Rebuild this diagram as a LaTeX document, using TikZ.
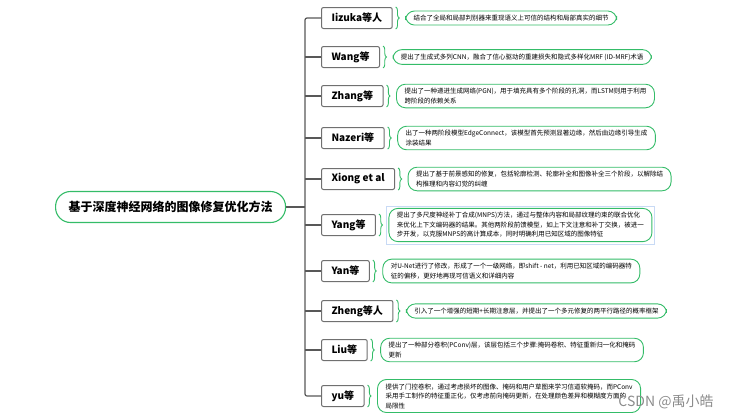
\documentclass[tikz,border=0pt]{standalone}
\usepackage{fontspec}
\setmainfont{Noto Sans CJK SC}
\usepackage{tikz}
\usetikzlibrary{positioning,decorations.pathreplacing}
\definecolor{mapgreen}{RGB}{52,188,104}
\definecolor{boxgray}{RGB}{112,112,112}
\definecolor{linegray}{RGB}{88,88,88}
\definecolor{selblue}{RGB}{200,218,245}
\tikzstyle{root}=[draw=mapgreen, line width=1.1pt, fill=white, rounded corners=15pt,
        minimum height=31pt, inner xsep=13pt, font=\fontsize{12}{12}\selectfont\bfseries]
\tikzstyle{method}=[draw=boxgray, line width=1pt, fill=white, rounded corners=2pt,
        minimum height=21pt, inner xsep=10pt, font=\fontsize{10}{10}\selectfont\bfseries]
\tikzstyle{note}=[draw=mapgreen, line width=0.9pt, fill=white, rounded corners=9pt,
        align=left, inner xsep=8pt, inner ysep=4pt, font=\fontsize{6.5}{9.5}\selectfont]
\tikzstyle{branch}=[draw=linegray, line width=1.2pt]
\tikzstyle{curly}=[draw=mapgreen, line width=0.9pt, decorate,
        decoration={brace, amplitude=3.5pt}]

\begin{document}
\begin{tikzpicture}[x=1pt, y=-1pt]

        \useasboundingbox (0,0) rectangle (731,416);

        \node[root, anchor=west] (root) at (55,207) {基于深度神经网络的图像修复优化方法};
        \coordinate (trunk) at (305,207);

        \node[method, anchor=west] (iizuka) at (321,18) {Iizuka等人};
        \node[method, anchor=west] (wang) at (321,57) {Wang等};
        \node[method, anchor=west] (zhang) at (321,96) {Zhang等};
        \node[method, anchor=west] (nazeri) at (321,138) {Nazeri等};
        \node[method, anchor=west] (xiong) at (321,179) {Xiong et al};
        \node[method, anchor=west] (yang) at (321,225) {Yang等};
        \node[method, anchor=west] (yan) at (321,271) {Yan等};
        \node[method, anchor=west] (zheng) at (321,311) {Zheng等人};
        \node[method, anchor=west] (liu) at (321,350) {Liu等};
        \node[method, anchor=west] (yu) at (321,396) {yu等};

        \node[note, right=12.5pt of iizuka] (iizukanote)
            {结合了全局和局部判别器来重现语义上可信的结构和局部真实的细节};
        \node[note, right=12.5pt of wang] (wangnote)
            {提出了生成式多列CNN，融合了信心驱动的重建损失和隐式多样化MRF (ID-MRF)术语};
        \node[note, right=12.5pt of zhang] (zhangnote)
            {提出了一种递进生成网络(PGN)，用于填充具有多个阶段的孔洞，而LSTM则用于利用\\
            跨阶段的依赖关系};
        \node[note, right=12.5pt of nazeri] (nazerinote)
            {出了一种两阶段模型EdgeConnect，该模型首先预测显著边缘，然后由边缘引导生成\\
            涂装结果};
        \node[note, right=12.5pt of xiong] (xiongnote)
            {提出了基于前景感知的修复，包括轮廓检测、轮廓补全和图像补全三个阶段，以解除结\\
            构推理和内容幻觉的纠缠};
        \node[note, right=12.5pt of yang] (yangnote)
            {提出了多尺度神经补丁合成(MNPS)方法，通过与整体内容和局部纹理约束的联合优化\\
            来优化上下文编码器的结果。其他两阶段前馈模型，如上下文注意和补丁交换，被进一\\
            步开发，以克服MNPS的高计算成本，同时明确利用已知区域的图像特征};
        \node[note, right=12.5pt of yan] (yannote)
            {对U-Net进行了修改，形成了一个一级网络，即shift - net，利用已知区域的编码器特\\
            征的偏移，更好地再现可信语义和详细内容};
        \node[note, right=12.5pt of zheng] (zhengnote)
            {引入了一个增强的短期+长期注意层，并提出了一个多元修复的两平行路径的概率框架};
        \node[note, right=12.5pt of liu] (liunote)
            {提出了一种部分卷积(PConv)层，该层包括三个步骤:掩码卷积、特征重新归一化和掩码\\
            更新};
        \node[note, right=12.5pt of yu] (yunote)
            {提供了门控卷积，通过考虑损坏的图像、掩码和用户草图来学习信道软掩码，而PConv\\
            采用手工制作的特征重正化，仅考虑前向掩码更新，在处理颜色差异和模糊度方面的\\
            局限性};

        % selection frame round the Yang note
        \draw[selblue, line width=0.8pt] ([shift={(-2pt,2pt)}]yangnote.north west)
            rectangle ([shift={(2pt,-2pt)}]yangnote.south east);

        % tree lines
        \draw[branch, rounded corners=2pt] (iizuka.west) -| (trunk) |- (yu.west);
        \draw[branch] (root.east) -- (trunk);
        \draw[branch] (wang.west) -- (wang.west -| trunk);
        \draw[branch] (zhang.west) -- (zhang.west -| trunk);
        \draw[branch] (nazeri.west) -- (nazeri.west -| trunk);
        \draw[branch] (xiong.west) -- (xiong.west -| trunk);
        \draw[branch] (yang.west) -- (yang.west -| trunk);
        \draw[branch] (yan.west) -- (yan.west -| trunk);
        \draw[branch] (zheng.west) -- (zheng.west -| trunk);
        \draw[branch] (liu.west) -- (liu.west -| trunk);

        % braces
        \foreach \m in {iizuka,wang,zhang,nazeri,xiong,yang,yan,zheng,liu,yu}
            \draw[curly] ([xshift=3pt]\m.north east) -- ([xshift=3pt]\m.south east);

        \node[text=black!45, font=\fontsize{14}{14}\selectfont] (mark) at (666,402)
            {CSDN @禹小皓};

    \end{tikzpicture}
\end{document}
